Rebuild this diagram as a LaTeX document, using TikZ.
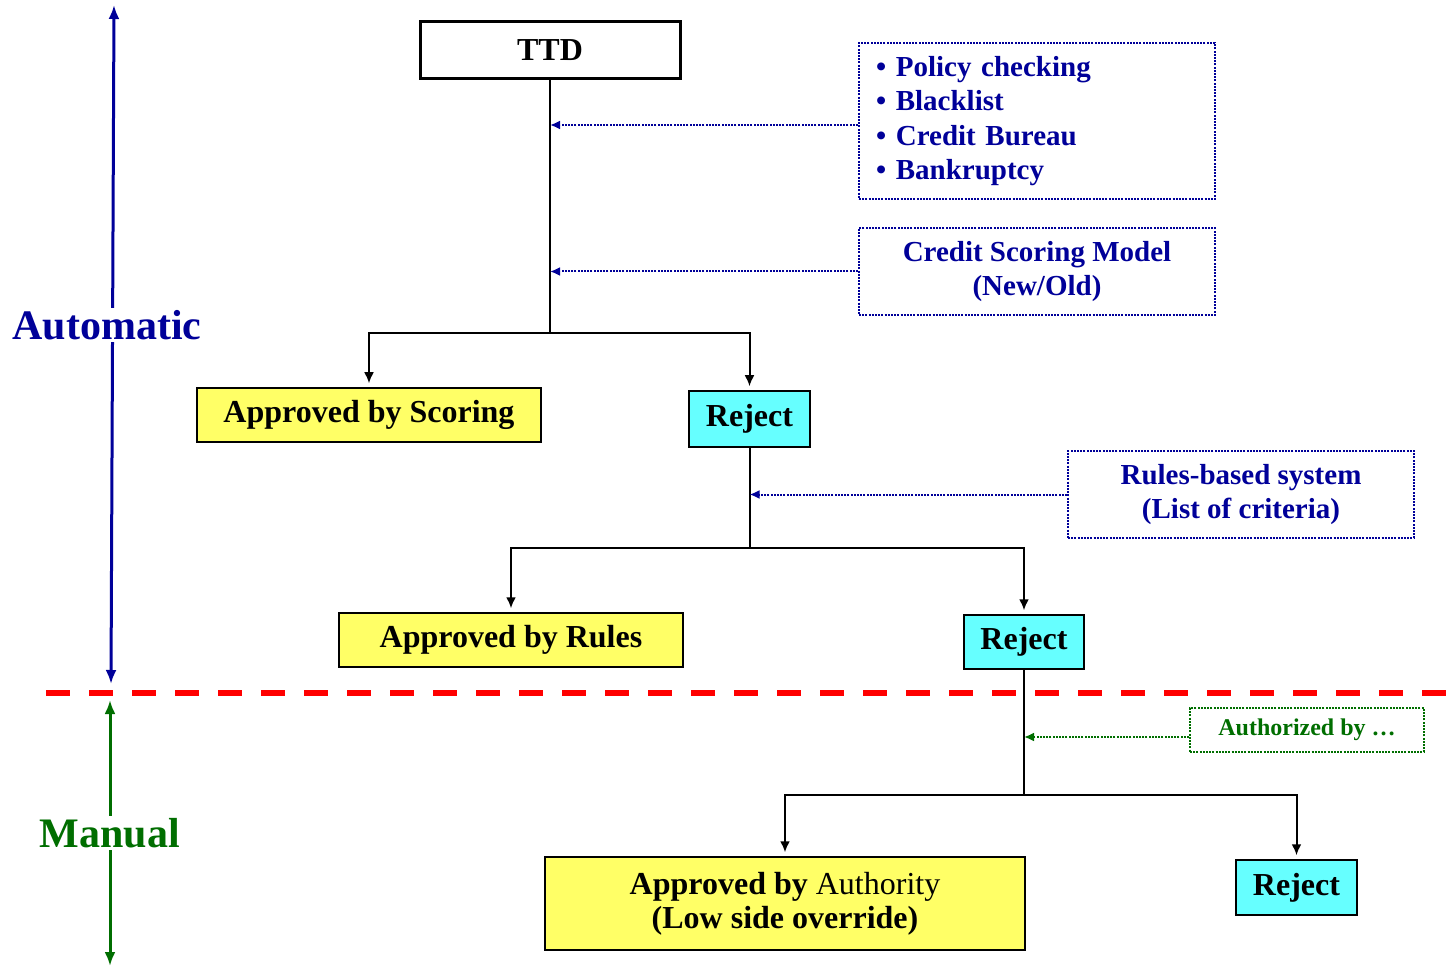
\documentclass[tikz,border=0pt]{standalone}
\usepackage{fontspec}
\setmainfont{Liberation Serif}
\usetikzlibrary{arrows.meta}
\definecolor{navy}{RGB}{0,0,153}
\definecolor{dgreen}{RGB}{0,110,0}
\definecolor{boxyellow}{RGB}{255,255,102}
\definecolor{boxcyan}{RGB}{102,255,255}
\definecolor{dashred}{RGB}{255,0,0}
\begin{document}
\begin{tikzpicture}[x=0.5pt,y=-0.5pt,
  mainfont/.style={font=\fontsize{16}{17}\selectfont\bfseries},
  flowbox/.style={draw=black, line width=0.75pt, mainfont, inner sep=0pt, align=center},
  yellowbox/.style={flowbox, fill=boxyellow},
  cyanbox/.style={flowbox, fill=boxcyan},
  ttdbox/.style={draw=black, line width=1.5pt, fill=white, mainfont, inner sep=0pt},
  notebox/.style={draw=navy, line width=1pt, dash pattern=on 1pt off 0.6pt, text=navy,
     font=\fontsize{14.5}{17.25}\selectfont\bfseries, inner sep=0pt, align=center},
  greennote/.style={draw=dgreen, line width=1pt, dash pattern=on 1pt off 0.6pt, text=dgreen,
     font=\fontsize{12}{13}\selectfont\bfseries, inner sep=0pt, align=center},
  flow/.style={draw=black, line width=1pt},
  flowarrow/.style={flow, -{Latex[length=5.5pt,width=5pt]}, shorten >=2pt},
  notearrow/.style={draw=navy, line width=1pt, dash pattern=on 1pt off 0.6pt, -{Latex[length=5pt,width=4.5pt]}},
  greenarrow/.style={draw=dgreen, line width=1pt, dash pattern=on 1pt off 0.6pt, -{Latex[length=5pt,width=4.5pt]}},
  axisarrow/.style={line width=1.5pt, {Latex[length=7pt,width=5.5pt]}-{Latex[length=7pt,width=5.5pt]}},
  axislabel/.style={fill=white, inner sep=1pt, font=\fontsize{21}{24}\selectfont\bfseries}
]
\useasboundingbox (0,0) rectangle (1447,968);

% main boxes
\node[ttdbox, minimum width=130pt, minimum height=28.5pt] (ttd) at (550,50) {TTD};
\node[yellowbox, minimum width=172pt, minimum height=27pt] (scoring) at (369,415) {Approved by Scoring};
\node[cyanbox, minimum width=60.5pt, minimum height=28pt] (rej1) at (749.5,419) {Reject};
\node[yellowbox, minimum width=172pt, minimum height=27pt] (rules) at (511,640) {Approved by Rules};
\node[cyanbox, minimum width=60pt, minimum height=27pt] (rej2) at (1024,642) {Reject};
\node[yellowbox, minimum width=240pt, minimum height=46.5pt] (authority) at (785,903.5) {Approved by \textmd{Authority}\\(Low side override)};
\node[cyanbox, minimum width=60.5pt, minimum height=27.5pt] (rej3) at (1296.5,887.5) {Reject};

% note boxes
\node[notebox, minimum width=178pt, minimum height=78pt, text width=161pt, inner xsep=8.5pt, align=left] (policy) at (1037,121)
  {\raisebox{-2pt}{• Policy checking}\\\raisebox{-2pt}{• Blacklist}\\\raisebox{-2pt}{• Credit Bureau}\\\raisebox{-2pt}{• Bankruptcy}};
\node[notebox, minimum width=178pt, minimum height=43.5pt] (model) at (1037,271.5) {Credit Scoring Model\\(New/Old)};
\node[notebox, minimum width=173pt, minimum height=43.5pt] (rulesys) at (1241,494.5) {Rules-based system\\(List of criteria)};
\node[greennote, minimum width=117pt, minimum height=22pt] (auth) at (1307,730) {Authorized by \dots};

% junctions
\coordinate (j1) at (550,333);
\coordinate (j2) at (749.5,548);
\coordinate (j3) at (1024,795);

% flow lines
\draw[flow] (ttd.south) -- (j1);
\draw[flowarrow] (j1) -| (scoring.north);
\draw[flowarrow] (j1) -| (rej1.north);
\draw[flow] (rej1.south) -- (j2);
\draw[flowarrow] (j2) -| (rules.north);
\draw[flowarrow] (j2) -| (rej2.north);
\draw[flow] (rej2.south) -- (j3);
\draw[flowarrow] (j3) -| (authority.north);
\draw[flowarrow] (j3) -| (rej3.north);

% note arrows
\draw[notearrow] ([yshift=-2pt]policy.west) -- ([yshift=-2pt]policy.west -| j1);
\draw[notearrow] (model.west) -- (model.west -| j1);
\draw[notearrow] (rulesys.west) -- (rulesys.west -| j2);
\draw[greenarrow] ([yshift=-3.5pt]auth.west) -- ([yshift=-3.5pt]auth.west -| j3);

% divider
\coordinate (dl) at (46,693);
\coordinate (dr) at (1447,693);
\draw[dashred, line width=3pt, dash pattern=on 12pt off 9.5pt] (dl) -- (dr);

% axes
\coordinate (atop) at (114,5);
\coordinate (abot) at (111,684);
\coordinate (mtop) at (110,700);
\coordinate (mbot) at (110,966);
\draw[axisarrow, navy] (abot) -- (atop);
\draw[axisarrow, dgreen] (mtop) -- (mbot);
\node[axislabel, text=navy] (autolabel) at (107,325) {Automatic};
\node[axislabel, text=dgreen] (manlabel) at (110,833) {Manual};
\end{tikzpicture}
\end{document}
